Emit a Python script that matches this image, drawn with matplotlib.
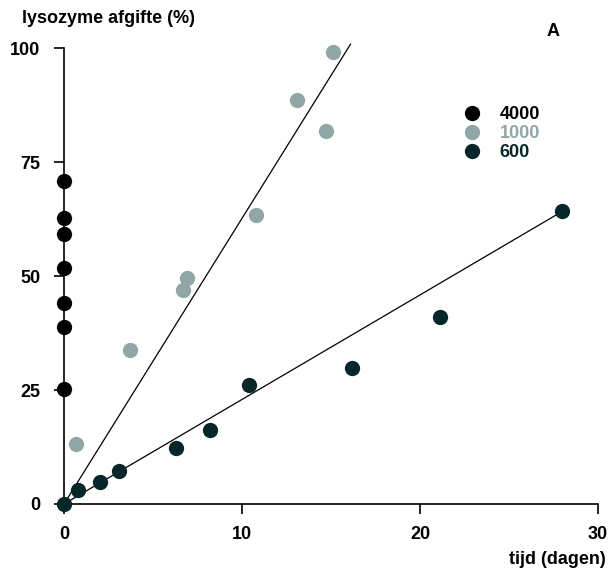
import matplotlib.pyplot as plt

plt.rcParams['font.family'] = ['Liberation Sans', 'DejaVu Sans']
plt.rcParams['font.weight'] = 'bold'

# release data
x_4000 = [0, 0, 0, 0, 0, 0, 0]
y_4000 = [70.8, 62.7, 59.2, 51.8, 44.1, 38.8, 25.2]

x_1000 = [0.7, 3.7, 6.7, 6.9, 10.8, 13.1, 14.7, 15.1]
y_1000 = [13.2, 33.8, 46.9, 49.6, 63.4, 88.6, 81.8, 99.1]

x_600 = [0, 0.8, 2.0, 3.1, 6.3, 8.2, 10.4, 16.2, 21.1, 28.0]
y_600 = [0, 3.1, 4.8, 7.2, 12.3, 16.2, 26.1, 29.8, 41.0, 64.3]

# fitted lines
fit_x_1000 = [0, 16.1]
fit_y_1000 = [0, 100.9]
fit_x_600 = [0, 28.3]
fit_y_600 = [0, 64.9]

c_4000 = '#000000'
c_1000 = '#91a7a7'
c_600 = '#062629'

fig = plt.figure(figsize=(6.12, 5.74), dpi=100)
ax = fig.add_axes([0.1046, 0.122, 0.8725, 0.794])

ax.plot(fit_x_1000, fit_y_1000, color='black', lw=0.9, clip_on=False)
ax.plot(fit_x_600, fit_y_600, color='black', lw=0.9, clip_on=False)

ms = 11
ax.plot(x_4000, y_4000, 'o', color=c_4000, ms=ms, mec='none', label='4000', clip_on=False)
ax.plot(x_1000, y_1000, 'o', color=c_1000, ms=ms, mec='none', label='1000', clip_on=False)
ax.plot(x_600, y_600, 'o', color=c_600, ms=ms, mec='none', label='600', clip_on=False, zorder=5)

ax.set_xlim(0, 30)
ax.set_ylim(0, 100)
ax.set_xticks([0, 10, 20, 30])
ax.set_yticks([0, 25, 50, 75, 100])
ax.spines['top'].set_visible(False)
ax.spines['right'].set_visible(False)
for s in ('left', 'bottom'):
    ax.spines[s].set_linewidth(1.2)
ax.tick_params(axis='x', length=7, width=1.2, pad=9, labelsize=13)
ax.tick_params(axis='y', length=7, width=1.2, pad=10, labelsize=13)
for lab in ax.get_xticklabels() + ax.get_yticklabels():
    lab.set_fontweight('bold')

leg = ax.legend(loc='upper left', bbox_to_anchor=(0.723, 0.909), frameon=False,
                handlelength=0.6, handletextpad=1.25, labelspacing=0.12,
                labelcolor='linecolor', prop={'size': 13, 'weight': 'bold'})

fig.text(0.036, 0.968, 'lysozyme afgifte (%)', fontsize=13, fontweight='bold', va='center')
fig.text(0.893, 0.945, 'A', fontsize=13, fontweight='bold', va='center')
fig.text(0.989, 0.025, 'tijd (dagen)', fontsize=13, fontweight='bold', ha='right', va='center')

fig.savefig('out.png', dpi=100)
